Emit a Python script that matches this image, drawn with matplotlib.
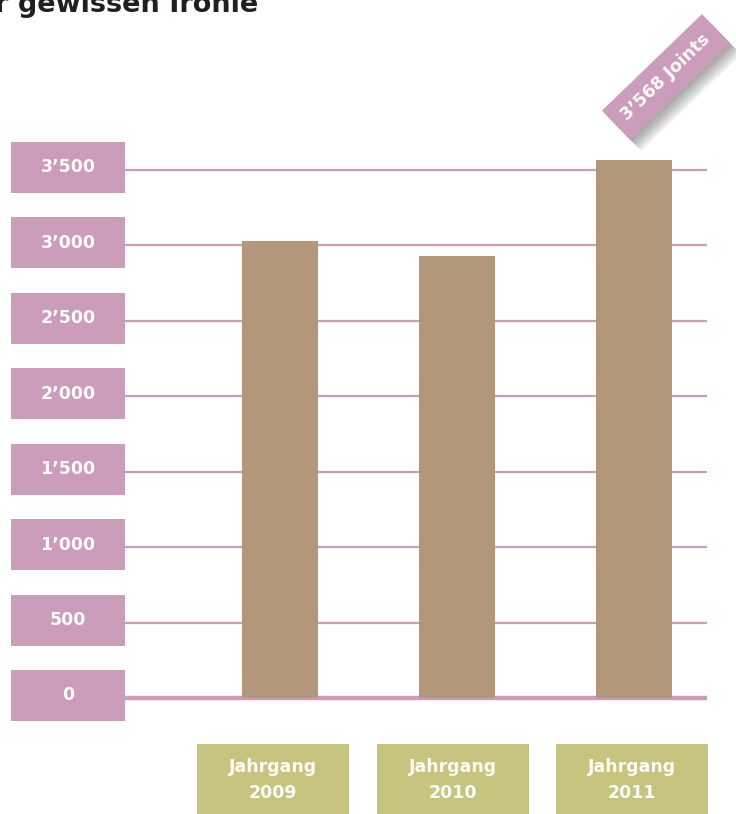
import matplotlib
matplotlib.use("Agg")
import matplotlib.pyplot as plt
from matplotlib.patches import Rectangle
import matplotlib.patheffects as pe

# ---------- Daten ----------
jahrgaenge = ["2009", "2010", "2011"]
joints = [3030, 2930, 3568]
y_ticks = [0, 500, 1000, 1500, 2000, 2500, 3000, 3500]
y_labels = ["0", "500", "1’000", "1’500", "2’000", "2’500", "3’000", "3’500"]
highlight = "3’568 Joints"
title = "r gewissen Ironie"

# ---------- Farben ----------
pink = "#cb9dbb"
brown = "#b3977a"
olive = "#c6c47e"
white = "#fdfbf7"

W, H = 736, 814
fig = plt.figure(figsize=(W / 100, H / 100), dpi=100)
ax = fig.add_axes([0, 0, 1, 1])
ax.axis("off")

# Pixel-Layout -> Datenkoordinaten
x0, dx = 280, 177          # Mitte erster Balken, Abstand
y0, s = 698, 528 / 3500    # Nulllinie, Pixel pro Einheit
ax.set_xlim(-x0 / dx, (W - x0) / dx)
ax.set_ylim(-(H - y0) / s, y0 / s)


def px_x(p):
    return (p - x0) / dx


def px_y(p):
    return (y0 - p) / s


# ---------- Gitterlinien ----------
for v in y_ticks:
    ax.plot([px_x(125), px_x(707)], [v, v], color=pink,
            lw=3.2 if v == 0 else 1.6, solid_capstyle="butt", zorder=1)

# ---------- Balken ----------
idx = list(range(len(jahrgaenge)))
ax.bar(idx, joints, width=76 / dx, color=brown, zorder=2)

# ---------- Y-Beschriftung ----------
for v, lab in zip(y_ticks, y_labels):
    yc = v + 2.5 / s
    ax.add_patch(Rectangle((px_x(11), yc - 25.5 / s), 114 / dx, 51 / s,
                           color=pink, lw=0, zorder=3))
    ax.text(px_x(68), yc, lab, ha="center", va="center", color=white,
            fontsize=12.5, fontweight="bold", zorder=4)

# ---------- X-Beschriftung ----------
box_left = [197, 377, 556]
for i, (j, bl) in enumerate(zip(jahrgaenge, box_left)):
    ax.add_patch(Rectangle((px_x(bl), px_y(814)), 152 / dx, 70 / s,
                           color=olive, lw=0, zorder=3))
    ax.text(px_x(bl + 76), px_y(780), "Jahrgang\n" + j, ha="center",
            va="center", color=white, fontsize=12.5, fontweight="bold",
            linespacing=1.55, zorder=4)

# ---------- Hervorhebung ----------
t = ax.text(px_x(666), px_y(77), highlight, ha="center", va="center",
            rotation=44, rotation_mode="anchor", color=white, fontsize=12.5,
            fontweight="bold", zorder=6,
            bbox=dict(boxstyle="square,pad=0.65", fc=pink, ec="none"))
# weicher Schatten
shadows = [pe.SimplePatchShadow(offset=(o, -o), shadow_rgbFace="#444444", alpha=0.07)
           for o in range(1, 9)]
t.get_bbox_patch().set_path_effects(shadows + [pe.Normal()])

# ---------- Titel (angeschnitten) ----------
ax.text(px_x(-5), px_y(12), title, ha="left", va="baseline",
        color="#231f20", fontsize=19.5, fontweight="bold")

fig.savefig("out.png", dpi=100)
